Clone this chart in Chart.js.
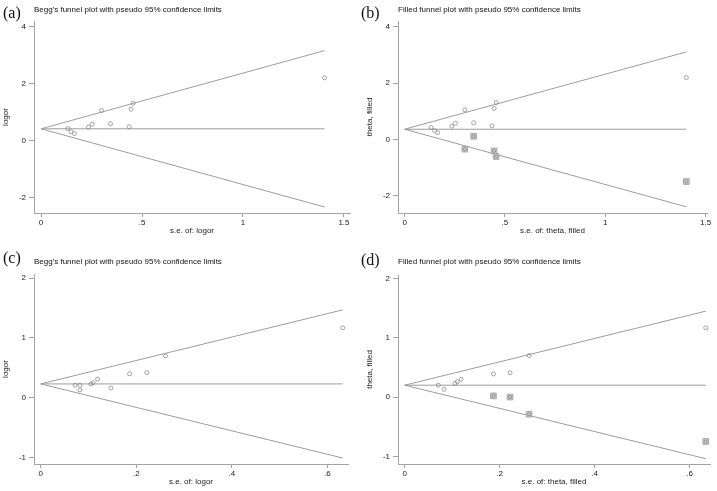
<!DOCTYPE html>
<html>
<head>
<meta charset="utf-8">
<script src="https://cdn.jsdelivr.net/npm/chart.js@4.4.0/dist/chart.umd.min.js"></script>
<style>
  body { margin: 0; background: #fff; width: 717px; height: 491px; position: relative; overflow: hidden;
         font-family: "Liberation Sans", Arial, sans-serif; }
  .panel { position: absolute; width: 358px; height: 245px; }
  .panel canvas { position: absolute; left: 0; top: 0; }
  .tag { position: absolute; font-family: "Liberation Serif", "Times New Roman", serif; font-size: 16px; line-height: 16px; color: #111; }
  .title { position: absolute; font-size: 8px; line-height: 10px; color: #111; white-space: nowrap; }
</style>
</head>
<body>
<div class="panel" style="left:0;top:0">
  <canvas id="chart-a" width="358" height="245"></canvas>
  <div class="tag" style="left:3px;top:5px">(a)</div>
  <div class="title" style="left:34px;top:5px">Begg's funnel plot with pseudo 95% confidence limits</div>
</div>
<div class="panel" style="left:358px;top:0">
  <canvas id="chart-b" width="358" height="245"></canvas>
  <div class="tag" style="left:3px;top:5px">(b)</div>
  <div class="title" style="left:40px;top:5px">Filled funnel plot with pseudo 95% confidence limits</div>
</div>
<div class="panel" style="left:0;top:245px">
  <canvas id="chart-c" width="358" height="245"></canvas>
  <div class="tag" style="left:3px;top:5px">(c)</div>
  <div class="title" style="left:34px;top:12px">Begg's funnel plot with pseudo 95% confidence limits</div>
</div>
<div class="panel" style="left:358px;top:245px">
  <canvas id="chart-d" width="358" height="245"></canvas>
  <div class="tag" style="left:3px;top:7px">(d)</div>
  <div class="title" style="left:40px;top:12px">Filled funnel plot with pseudo 95% confidence limits</div>
</div>

<script>
// ==========================================
// 1. DATA
// ==========================================
// top row: studies (s.e., log OR)
const seTop    = [0.132, 0.149, 0.165, 0.235, 0.253, 0.300, 0.344, 0.436, 0.446, 0.456, 1.404];
const logorTop = [0.42, 0.31, 0.24, 0.47, 0.57, 1.05, 0.59, 0.48, 1.10, 1.31, 2.20];
// (b) imputed ("filled") studies
const seFillB  = [0.300, 0.344, 0.446, 0.456, 1.404];
const valFillB = [-0.35, 0.11, -0.41, -0.61, -1.50];

// funnel lines: s.e. at both ends, upper/lower pseudo 95% limits, pooled estimate
const funnelSeA = [0, 1.404];
const upperA    = [0.41, 3.16];
const lowerA    = [0.41, -2.34];
const pooledA   = [0.41, 0.41];

const funnelSeB = [0, 1.404];
const upperB    = [0.36, 3.11];
const lowerB    = [0.36, -2.40];
const pooledB   = [0.36, 0.36];

// bottom row: studies
const seC    = [0.072, 0.082, 0.082, 0.105, 0.110, 0.119, 0.147, 0.186, 0.222, 0.261, 0.632];
const logorC = [0.21, 0.21, 0.13, 0.23, 0.25, 0.31, 0.16, 0.40, 0.42, 0.70, 1.17];
const seD    = [0.071, 0.083, 0.106, 0.111, 0.119, 0.187, 0.222, 0.262, 0.634];
const thetaD = [0.20, 0.13, 0.23, 0.26, 0.30, 0.39, 0.41, 0.70, 1.17];
const seFillD  = [0.187, 0.222, 0.262, 0.634];
const valFillD = [0.02, 0.00, -0.29, -0.75];

const funnelSeC = [0, 0.632];
const upperC    = [0.23, 1.47];
const lowerC    = [0.23, -1.01];
const pooledC   = [0.23, 0.23];

const funnelSeD = [0, 0.634];
const upperD    = [0.20, 1.45];
const lowerD    = [0.20, -1.04];
const pooledD   = [0.20, 0.20];

// tick labels
const xTicksTop = [0, 0.5, 1, 1.5];
const yTicksTop = [-2, 0, 2, 4];
const xTicksBot = [0, 0.2, 0.4, 0.6];
const yTicksBot = [-1, 0, 1, 2];

// ==========================================
// 2. HELPERS
// ==========================================
const FONT = "'Liberation Sans', Arial, sans-serif";
const W = 358, H = 245;

const pts = (xs, ys) => xs.map((x, i) => ({ x: x, y: ys[i] }));
// Stata style: ".5" instead of "0.5"
const fmt = v => String(v).replace(/^0\./, '.').replace(/^-0\./, '-.');

function funnelChart(id, p) {
  const datasets = [];

  if (p.fillSe) {
    // imputed studies: circle drawn inside a grey square
    datasets.push({ data: pts(p.fillSe, p.fillVal), pointStyle: 'circle', pointRadius: 1.6,
      pointBorderWidth: 0.7, pointBorderColor: '#7a7a7a', pointBackgroundColor: 'rgba(0,0,0,0)' });
    datasets.push({ data: pts(p.fillSe, p.fillVal), pointStyle: 'rect', pointRadius: 4,
      pointBorderWidth: 0.8, pointBorderColor: '#999', pointBackgroundColor: '#cdcdcd' });
  }
  datasets.push({ data: pts(p.se, p.val), pointStyle: 'circle', pointRadius: 2,
    pointBorderWidth: 0.8, pointBorderColor: '#8c8c8c', pointBackgroundColor: 'rgba(255,255,255,0)' });

  [p.upper, p.lower, p.pooled].forEach(ys => {
    datasets.push({ data: pts(p.funnelSe, ys), showLine: true, pointRadius: 0,
      borderColor: '#9c9c9c', borderWidth: 1 });
  });

  const a = p.area;
  new Chart(document.getElementById(id), {
    type: 'scatter',
    data: { datasets: datasets },
    options: {
      responsive: false,
      animation: false,
      devicePixelRatio: 1,
      events: [],
      layout: { autoPadding: false,
        padding: { left: 0, top: a.top, right: W - a.right, bottom: H - a.bottom - 23 } },
      plugins: { legend: { display: false }, tooltip: { enabled: false } },
      scales: {
        x: {
          type: 'linear', min: p.xMin, max: p.xMax,
          afterBuildTicks: s => { s.ticks = p.xTicks.map(v => ({ value: v })); },
          afterFit: s => { s.height = 23; },
          border: { display: true, color: '#a4a4a4', width: 1 },
          grid: { drawOnChartArea: false, drawTicks: true, tickLength: 4, color: '#a4a4a4', tickColor: '#a4a4a4' },
          ticks: { padding: 1, color: '#222', font: { family: FONT, size: 8 }, maxRotation: 0, autoSkip: false,
                   callback: v => fmt(v) },
          title: { display: true, text: p.xTitle, color: '#222', font: { family: FONT, size: 8 },
                   padding: { top: 0, bottom: 0 } }
        },
        y: {
          type: 'linear', min: p.yMin, max: p.yMax,
          afterBuildTicks: s => { s.ticks = p.yTicks.map(v => ({ value: v })); },
          afterFit: s => { s.width = a.left; },
          border: { display: true, color: '#a4a4a4', width: 1 },
          grid: { drawOnChartArea: false, drawTicks: true, tickLength: 5, color: '#a4a4a4', tickColor: '#a4a4a4' },
          ticks: { padding: 3, color: '#222', font: { family: FONT, size: 8 }, autoSkip: false,
                   callback: v => fmt(v) },
          title: { display: true, text: p.yTitle, color: '#222', font: { family: FONT, size: 8 },
                   padding: { top: p.yTitlePad, bottom: 0 } }
        }
      }
    }
  });
}

// ==========================================
// 3. THE FOUR PANELS
// ==========================================
funnelChart('chart-a', {
  se: seTop, val: logorTop, funnelSe: funnelSeA, upper: upperA, lower: lowerA, pooled: pooledA,
  xMin: -0.035, xMax: 1.53, yMin: -2.55, yMax: 4.2, xTicks: xTicksTop, yTicks: yTicksTop,
  xTitle: 's.e. of: logor', yTitle: 'logor', yTitlePad: 1,
  area: { left: 34, top: 21, right: 350, bottom: 213 }
});

funnelChart('chart-b', {
  se: seTop, val: logorTop, fillSe: seFillB, fillVal: valFillB,
  funnelSe: funnelSeB, upper: upperB, lower: lowerB, pooled: pooledB,
  xMin: -0.033, xMax: 1.507, yMin: -2.62, yMax: 4.21, xTicks: xTicksTop, yTicks: yTicksTop,
  xTitle: 's.e. of: theta, filled', yTitle: 'theta, filled', yTitlePad: 7,
  area: { left: 40, top: 21, right: 349, bottom: 213 }
});

funnelChart('chart-c', {
  se: seC, val: logorC, funnelSe: funnelSeC, upper: upperC, lower: lowerC, pooled: pooledC,
  xMin: -0.014, xMax: 0.643, yMin: -1.11, yMax: 2.07, xTicks: xTicksBot, yTicks: yTicksBot,
  xTitle: 's.e. of: logor', yTitle: 'logor', yTitlePad: 1,
  area: { left: 34, top: 29, right: 348, bottom: 219 }
});

funnelChart('chart-d', {
  se: seD, val: thetaD, fillSe: seFillD, fillVal: valFillD,
  funnelSe: funnelSeD, upper: upperD, lower: lowerD, pooled: pooledD,
  xMin: -0.014, xMax: 0.643, yMin: -1.13, yMax: 2.06, xTicks: xTicksBot, yTicks: yTicksBot,
  xTitle: 's.e. of: theta, filled', yTitle: 'theta, filled', yTitlePad: 7,
  area: { left: 40, top: 30, right: 352, bottom: 219 }
});
</script>
</body>
</html>
